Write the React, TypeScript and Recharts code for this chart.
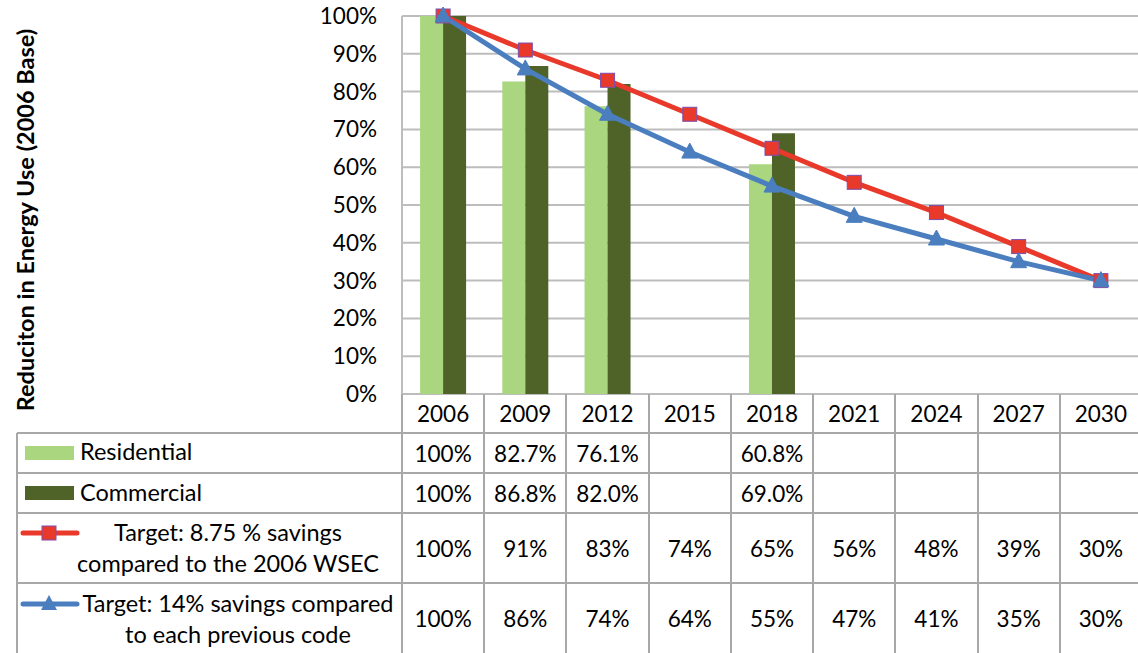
import {
  Bar,
  CartesianGrid,
  ComposedChart,
  Line,
  XAxis,
  YAxis,
} from 'recharts'

const YEARS = ['2006', '2009', '2012', '2015', '2018', '2021', '2024', '2027', '2030']
const RESIDENTIAL = [100, 82.7, 76.1, null, 60.8, null, null, null, null]
const COMMERCIAL = [100, 86.8, 82.0, null, 69.0, null, null, null, null]
const TARGET_875 = [100, 91, 83, 74, 65, 56, 48, 39, 30]
const TARGET_14 = [100, 86, 74, 64, 55, 47, 41, 35, 30]
const Y_TICKS = [0, 10, 20, 30, 40, 50, 60, 70, 80, 90, 100]

const LIGHT_GREEN = '#a9d67f'
const DARK_GREEN = '#4f6228'
const RED = '#e8392b'
const BLUE = '#4a7ebf'
const PURPLE = '#7b4fb0'
const GRID = '#bdbdbd'
const TABLE_LINE = '#a8a8a8'
const TEXT = '#000'
const FONT = 'Lato, "Open Sans", sans-serif'

const PLOT_LEFT = 402
const PLOT_WIDTH = 740
const PLOT_TOP = 16
const PLOT_BOTTOM = 394
const BAND = PLOT_WIDTH / YEARS.length

const data = YEARS.map((year, i) => ({
  year,
  residential: RESIDENTIAL[i],
  commercial: COMMERCIAL[i],
  target875: TARGET_875[i],
  target14: TARGET_14[i],
}))

const barPct = (v: number | null) =>
  v == null ? '' : v === 100 ? '100%' : `${v.toFixed(1)}%`
const intPct = (v: number | null) => (v == null ? '' : `${v}%`)

const ROWS = [
  { top: 433, h: 40 },
  { top: 473, h: 40 },
  { top: 513, h: 70 },
  { top: 583, h: 70 },
]

function SquareDot(props: any) {
  const { cx, cy, index } = props
  if (cx == null || cy == null) return null
  return (
    <rect
      key={`sq-${index}`}
      x={cx - 7}
      y={cy - 7}
      width={14}
      height={14}
      fill={RED}
      stroke={PURPLE}
      strokeWidth={1}
    />
  )
}

function TriangleDot(props: any) {
  const { cx, cy, index } = props
  if (cx == null || cy == null) return null
  return (
    <polygon
      key={`tr-${index}`}
      points={`${cx},${cy - 9} ${cx + 8},${cy + 6} ${cx - 8},${cy + 6}`}
      fill={BLUE}
      stroke={BLUE}
      strokeWidth={1}
    />
  )
}

function HLine({ y, x1, x2 }: { y: number; x1: number; x2: number }) {
  return (
    <div
      style={{
        position: 'absolute',
        left: x1,
        top: y - 1,
        width: x2 - x1,
        height: 2,
        background: TABLE_LINE,
      }}
    />
  )
}

function VLine({ x, y1, y2 }: { x: number; y1: number; y2: number }) {
  return (
    <div
      style={{
        position: 'absolute',
        left: x - 1,
        top: y1,
        width: 2,
        height: y2 - y1,
        background: TABLE_LINE,
      }}
    />
  )
}

function CellText({
  left,
  top,
  width,
  height,
  size = 22.5,
  children,
}: {
  left: number
  top: number
  width: number
  height: number
  size?: number
  children: any
}) {
  return (
    <div
      style={{
        position: 'absolute',
        left,
        top,
        width,
        height,
        display: 'flex',
        alignItems: 'center',
        justifyContent: 'center',
        textAlign: 'center',
        fontSize: size,
        lineHeight: '31px',
        color: TEXT,
        whiteSpace: 'nowrap',
      }}
    >
      {children}
    </div>
  )
}

export default function App() {
  const colX = (i: number) => PLOT_LEFT + i * BAND
  const rowValues = [
    RESIDENTIAL.map(barPct),
    COMMERCIAL.map(barPct),
    TARGET_875.map(intPct),
    TARGET_14.map(intPct),
  ]

  return (
    <div
      style={{
        position: 'absolute',
        left: 0,
        top: 0,
        width: 1138,
        height: 653,
        overflow: 'hidden',
        background: '#fff',
        fontFamily: FONT,
      }}
    >
      <ComposedChart
        width={PLOT_LEFT + PLOT_WIDTH}
        height={653}
        data={data}
        margin={{ top: PLOT_TOP, right: 0, bottom: 653 - PLOT_BOTTOM, left: 0 }}
        barCategoryGap="22%"
        barGap={0}
      >
        <CartesianGrid vertical={false} stroke={GRID} strokeWidth={2} />
        <XAxis dataKey="year" hide />
        <YAxis
          width={PLOT_LEFT}
          domain={[0, 100]}
          ticks={Y_TICKS}
          tickFormatter={(v) => `${v}%`}
          axisLine={{ stroke: GRID, strokeWidth: 2 }}
          tickLine={false}
          tickSize={0}
          tickMargin={25}
          tick={{ fontSize: 22.5, fill: TEXT, fontFamily: FONT }}
          interval={0}
        />
        <Bar dataKey="residential" fill={LIGHT_GREEN} isAnimationActive={false} />
        <Bar dataKey="commercial" fill={DARK_GREEN} isAnimationActive={false} />
        <Line
          type="linear"
          dataKey="target875"
          stroke={RED}
          strokeWidth={5}
          dot={SquareDot}
          activeDot={false}
          isAnimationActive={false}
        />
        <Line
          type="linear"
          dataKey="target14"
          stroke={BLUE}
          strokeWidth={5}
          dot={TriangleDot}
          activeDot={false}
          isAnimationActive={false}
        />
      </ComposedChart>

      {/* y axis title */}
      <div
        style={{
          position: 'absolute',
          left: 25,
          top: 220,
          transform: 'translate(-50%, -50%) rotate(-90deg)',
          whiteSpace: 'nowrap',
          fontSize: 23.5,
          fontWeight: 700,
          color: TEXT,
        }}
      >
        Reduciton in Energy Use (2006 Base)
      </div>

      {/* data table */}
      {ROWS.map((r) => (
        <HLine key={`h-${r.top}`} y={r.top} x1={17} x2={PLOT_LEFT + PLOT_WIDTH} />
      ))}
      <VLine x={17} y1={433} y2={653} />
      {YEARS.map((_, i) => (
        <VLine key={`v-${i}`} x={colX(i)} y1={PLOT_BOTTOM} y2={653} />
      ))}
      <VLine x={colX(YEARS.length)} y1={PLOT_BOTTOM} y2={653} />

      {YEARS.map((y, i) => (
        <CellText key={`y-${y}`} left={colX(i)} top={PLOT_BOTTOM} width={BAND} height={39}>
          {y}
        </CellText>
      ))}
      {rowValues.map((vals, r) =>
        vals.map((v, i) => (
          <CellText
            key={`c-${r}-${i}`}
            left={colX(i)}
            top={ROWS[r].top}
            width={BAND}
            height={ROWS[r].h}
          >
            {v}
          </CellText>
        )),
      )}

      {/* legend column */}
      <div style={{ position: 'absolute', left: 25, top: 446, width: 49, height: 14, background: LIGHT_GREEN }} />
      <div style={{ position: 'absolute', left: 80, top: 436, fontSize: 23.5, lineHeight: '31px', color: TEXT }}>
        Residential
      </div>
      <div style={{ position: 'absolute', left: 25, top: 486, width: 49, height: 14, background: DARK_GREEN }} />
      <div style={{ position: 'absolute', left: 80, top: 477, fontSize: 23.5, lineHeight: '31px', color: TEXT }}>
        Commercial
      </div>

      <svg style={{ position: 'absolute', left: 20, top: 522 }} width={60} height={22}>
        <line x1={3} y1={11} x2={57} y2={11} stroke={RED} strokeWidth={5} strokeLinecap="round" />
        <rect x={22} y={4} width={14} height={14} fill={RED} stroke={PURPLE} strokeWidth={1} />
      </svg>
      <CellText left={78} top={517} width={300} height={62} size={23.5}>
        Target: 8.75 % savings
        <br />
        compared to the 2006 WSEC
      </CellText>

      <svg style={{ position: 'absolute', left: 20, top: 593 }} width={60} height={22}>
        <line x1={3} y1={11} x2={57} y2={11} stroke={BLUE} strokeWidth={5} strokeLinecap="round" />
        <polygon points="29,2 37,17 21,17" fill={BLUE} />
      </svg>
      <CellText left={78} top={588} width={320} height={62} size={23.5}>
        Target: 14% savings compared
        <br />
        to each previous code
      </CellText>
    </div>
  )
}
